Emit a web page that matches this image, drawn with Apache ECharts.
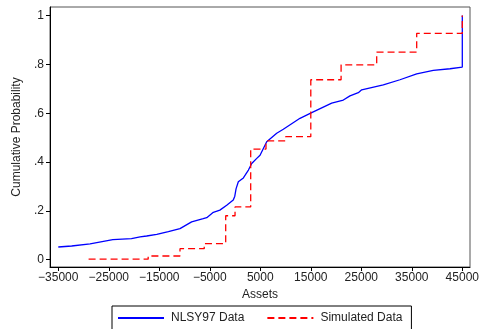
<!DOCTYPE html>
<html>
<head>
<meta charset="utf-8">
<script src="https://cdn.jsdelivr.net/npm/echarts@6/dist/echarts.min.js"></script>
<style>html,body{margin:0;padding:0;background:#fff}#c{width:486px;height:329px}</style>
</head>
<body>
<div id="c"></div>
<script>
const nlsyAssets = [-35000,-32350,-28700,-24200,-20500,-18800,-17500,-15500,-13200,-10900,-8600,-6300,-5600,-4300,-3000,-1650,-350,-50,200,650,1000,1650,2000,2650,3300,4300,4950,6270,8250,9560,12860,15180,19140,21440,22760,24410,25080,29360,32660,35970,39260,42570,45000,45000];
const nlsyProb   = [0.052,0.056,0.065,0.082,0.086,0.093,0.097,0.104,0.115,0.127,0.155,0.168,0.172,0.194,0.203,0.223,0.244,0.26,0.29,0.319,0.326,0.335,0.346,0.367,0.394,0.415,0.428,0.483,0.518,0.534,0.579,0.602,0.641,0.654,0.671,0.684,0.696,0.716,0.737,0.761,0.775,0.782,0.789,1.0];
// Simulated data step CDF
const simAssets = [-29000,-17200,-10900,-6100,-1850,0,3100,6130,10030,15000,21000,28050,35970,45000];
const simProb   = [0.002,0.015,0.045,0.066,0.18,0.216,0.453,0.487,0.504,0.737,0.798,0.85,0.927,1.0];
// Tick labels
const xTicks = [-35000,-25000,-15000,-5000,5000,15000,25000,35000,45000];
const yTicks = [0,0.2,0.4,0.6,0.8,1];
const yTickLabels = ['0','.2','.4','.6','.8','1'];
const seriesNames = ['NLSY97 Data','Simulated Data'];

const zip = (a,b) => a.map((v,i)=>[v,b[i]]);
const font = 'Liberation Sans, Arial, sans-serif';

const chart = echarts.init(document.getElementById('c'), null, {renderer:'canvas'});
chart.setOption({
  animation:false,
  grid:{left:50,right:16,top:7,bottom:62,show:true,borderColor:'#555',borderWidth:1},
  xAxis:{
    type:'value', min:-36640, max:46525,
    name:'Assets', nameLocation:'middle', nameGap:19,
    nameTextStyle:{fontFamily:font,fontSize:12,color:'#222'},
    axisLine:{show:true,onZero:false,lineStyle:{color:'#000',width:1}},
    axisTick:{show:true,length:4,inside:false,customValues:xTicks,lineStyle:{color:'#000'}},
    axisLabel:{customValues:xTicks,margin:5,fontFamily:font,fontSize:12,color:'#222',
      formatter:v=>String(v).replace('-','\u2212')},
    splitLine:{show:false}
  },
  yAxis:{
    type:'value', min:-0.03, max:1.035,
    name:'Cumulative Probability', nameLocation:'middle', nameGap:21,
    nameTextStyle:{fontFamily:font,fontSize:12,color:'#222'},
    axisLine:{show:true,onZero:false,lineStyle:{color:'#000',width:1}},
    axisTick:{show:true,length:4,customValues:yTicks,lineStyle:{color:'#000'}},
    axisLabel:{customValues:yTicks,margin:6,fontFamily:font,fontSize:12,color:'#222',
      formatter:v=>{const i=yTicks.findIndex(t=>Math.abs(t-v)<1e-6);return i>=0?yTickLabels[i]:'';}},
    splitLine:{show:false}
  },
  legend:{
    left:112, top:306, orient:'horizontal',
    data:seriesNames,
    itemWidth:46, itemHeight:12, itemGap:22,
    padding:[6,9,12,5],
    borderColor:'#000', borderWidth:1,
    itemStyle:{opacity:0},
    textStyle:{fontFamily:font,fontSize:12,color:'#222',padding:[0,0,0,2]}
  },
  series:[
    {name:seriesNames[0], type:'line', data:zip(nlsyAssets,nlsyProb), showSymbol:false, symbol:'none',
     lineStyle:{color:'#0000ff',width:1.3}, itemStyle:{color:'#0000ff'}, z:2},
    {name:seriesNames[1], type:'line', step:'end', data:zip(simAssets,simProb), showSymbol:false, symbol:'none',
     lineStyle:{color:'#ff0000',width:1.3,type:[7,4]}, itemStyle:{color:'#ff0000'}, z:3}
  ]
});
</script>
</body>
</html>
